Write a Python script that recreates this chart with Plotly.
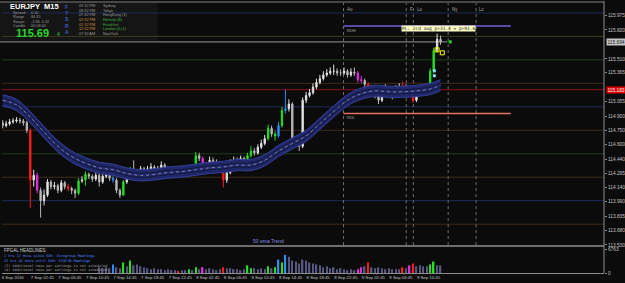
import plotly.graph_objects as go

# ------------------------------------------------------------------ data
# EURJPY, one candle per slot (slot 0 = left edge of the chart)
close = [114.80, 114.82, 114.84, 114.85, 114.86, 114.85, 114.83, 114.75, 114.22, 114.27,
         114.11, 114.00, 114.06, 114.20, 114.15, 114.16, 114.11, 114.19, 114.15, 114.13,
         114.11, 114.08, 114.21, 114.22, 114.28, 114.26, 114.23, 114.27, 114.20, 114.26,
         114.27, 114.24, 114.22, 114.11, 114.06, 114.20, 114.26, 114.32, 114.30, 114.26,
         114.34, 114.30, 114.34, 114.36, 114.32, 114.34, 114.38, 114.33, 114.31, 114.31,
         114.30, 114.29, 114.30, 114.31, 114.34, 114.35, 114.48, 114.45, 114.34, 114.36,
         114.43, 114.41, 114.40, 114.36, 114.22, 114.30, 114.40, 114.43, 114.41, 114.45,
         114.39, 114.48, 114.53, 114.51, 114.57, 114.61, 114.66, 114.77, 114.71, 114.69,
         114.80, 114.96, 114.98, 115.03, 114.64, 114.62, 114.58, 115.07, 115.12, 115.15,
         115.21, 115.26, 115.30, 115.34, 115.36, 115.38, 115.38, 115.36, 115.36, 115.38,
         115.34, 115.37, 115.36, 115.29, 115.28, 115.24, 115.21, 115.16, 115.12, 115.07,
         115.14, 115.17, 115.13, 115.12, 115.19, 115.21, 115.22, 115.19, 115.18, 115.07,
         115.15, 115.17, 115.15, 115.19, 115.38, 115.60, 115.72, 115.69]
high = [114.86, 114.85, 114.87, 114.88, 114.89, 114.88, 114.87, 114.85, 114.77, 114.33,
        114.30, 114.14, 114.12, 114.23, 114.22, 114.20, 114.18, 114.22, 114.21, 114.18,
        114.15, 114.13, 114.24, 114.26, 114.31, 114.30, 114.28, 114.30, 114.29, 114.29,
        114.31, 114.29, 114.26, 114.24, 114.13, 114.22, 114.29, 114.36, 114.43, 114.32,
        114.37, 114.36, 114.37, 114.40, 114.38, 114.37, 114.42, 114.40, 114.35, 114.34,
        114.33, 114.32, 114.33, 114.34, 114.37, 114.38, 114.52, 114.51, 114.47, 114.40,
        114.47, 114.46, 114.44, 114.42, 114.38, 114.33, 114.44, 114.47, 114.46, 114.48,
        114.47, 114.51, 114.58, 114.56, 114.60, 114.65, 114.70, 114.81, 114.80, 114.74,
        114.84, 115.00, 115.18, 115.08, 115.05, 114.68, 114.65, 115.10, 115.16, 115.19,
        115.25, 115.30, 115.34, 115.38, 115.40, 115.42, 115.45, 115.41, 115.40, 115.42,
        115.40, 115.41, 115.42, 115.38, 115.33, 115.30, 115.26, 115.23, 115.18, 115.15,
        115.18, 115.24, 115.19, 115.16, 115.23, 115.25, 115.27, 115.24, 115.21, 115.20,
        115.18, 115.21, 115.19, 115.22, 115.41, 115.63, 115.78, 115.76]
low = [114.77, 114.78, 114.80, 114.82, 114.83, 114.82, 114.80, 114.72, 113.92, 114.15,
       114.08, 113.82, 113.95, 114.04, 114.12, 114.12, 114.08, 114.09, 114.12, 114.10,
       114.07, 114.03, 114.06, 114.19, 114.16, 114.23, 114.20, 114.21, 114.15, 114.18,
       114.24, 114.21, 114.19, 114.08, 114.03, 114.05, 114.18, 114.24, 114.27, 114.23,
       114.24, 114.28, 114.29, 114.32, 114.30, 114.29, 114.32, 114.31, 114.29, 114.28,
       114.27, 114.26, 114.27, 114.28, 114.29, 114.32, 114.33, 114.42, 114.31, 114.32,
       114.35, 114.38, 114.37, 114.33, 114.14, 114.19, 114.28, 114.38, 114.38, 114.39,
       114.36, 114.37, 114.46, 114.48, 114.49, 114.55, 114.59, 114.64, 114.68, 114.64,
       114.67, 114.78, 114.93, 114.95, 114.56, 114.57, 114.53, 114.56, 115.04, 115.10,
       115.13, 115.19, 115.24, 115.28, 115.32, 115.34, 115.34, 115.33, 115.33, 115.34,
       115.31, 115.32, 115.33, 115.26, 115.25, 115.21, 115.18, 115.13, 115.09, 115.03,
       115.05, 115.12, 115.10, 115.08, 115.10, 115.17, 115.19, 115.16, 115.15, 115.04,
       115.05, 115.13, 115.12, 115.13, 115.17, 115.36, 115.58, 115.66]
first_open = 114.83
open_ = [first_open] + close[:-1]

# indicator-coloured bars (same colouring for candles and volume)
hl_index = [8, 10, 19, 22, 24, 32, 35, 37, 51, 54, 56, 58, 64, 71, 72, 77, 79, 80, 81, 82,
            103, 104, 106, 116, 118, 119, 124, 125]
hl_kind = ['red', 'magenta', 'red', 'green', 'green', 'blue', 'green', 'green', 'red', 'green',
           'green', 'magenta', 'red', 'green', 'green', 'green', 'green', 'blue', 'green', 'blue',
           'magenta', 'magenta', 'red', 'red', 'magenta', 'red', 'green', 'green']

# 50 ema trend band centre, sampled every 4th slot (+ last)
ema_slot = [0, 4, 8, 12, 16, 20, 24, 28, 32, 36, 40, 44, 48, 52, 56, 60, 64, 68, 72, 76,
            80, 84, 88, 92, 96, 100, 104, 108, 112, 116, 120, 124, 127]
ema_val = [115.07, 115.02, 114.89, 114.73, 114.58, 114.47, 114.40, 114.35, 114.33, 114.29,
           114.27, 114.28, 114.30, 114.31, 114.33, 114.35, 114.36, 114.38, 114.38, 114.43,
           114.53, 114.61, 114.69, 114.82, 114.95, 115.07, 115.14, 115.17, 115.16, 115.16,
           115.17, 115.19, 115.23]

# tick volume, slots 28..127
vol_start = 28
volume = [1620, 1350, 1620, 1350, 2430, 1620, 1350, 2970, 1890, 3510, 2160, 2430, 1890, 1620, 1350,
          1080, 1350, 1080, 1080, 810, 1080, 810, 810, 540, 810, 810, 1080, 810, 1620, 1080,
          1620, 1080, 1350, 1080, 810, 1080, 1620, 1350, 1350, 1080, 1080, 810, 1080, 2160, 1350,
          1350, 1080, 1350, 1080, 1890, 1350, 1620, 3780, 2970, 5130, 4590, 3510, 3240, 2700, 3780,
          3510, 2970, 2700, 2430, 2160, 1620, 1890, 1350, 1620, 1080, 1350, 1080, 810, 1080, 810,
          1080, 1620, 1890, 2970, 1620, 1350, 1620, 1350, 1080, 1350, 1080, 1080, 1080, 1620, 1350,
          2160, 2700, 1890, 2160, 1890, 1890, 2430, 3240, 2160, 2160]

# round-number levels
levels = [116.00, 115.75, 115.50, 115.25, 115.00, 114.75, 114.50, 114.25, 114.00, 113.75]
level_kind = ['blue', 'olive', 'green', 'brown', 'blue', 'brown', 'green', 'brown', 'blue', 'brown']
red_level = 115.183
bid = 115.692

# session markers (slot positions) and range high/low
sessions = ['Ao', 'F', 'Lo', 'Ny', 'Lc']
session_slot = [98.85, 117.05, 119.1, 129.2, 137.3]
rdh, rdl = 115.86, 114.93
range_slots = [98.85, 147.4]

# indicator markers
yellow_slot, yellow_val = [126.0, 127.5], [115.607, 115.575]
cyan_slot, cyan_val = [125.2, 125.2], [115.384, 115.331]
green_slot, green_val = [129.8], [115.692]

# axis ticks (115.665 and 115.210 sit under the bid / red price tags)
price_ticks = [115.975, 115.820, 115.510, 115.365, 115.055, 114.900, 114.750,
               114.600, 114.440, 114.295, 114.140, 113.990, 113.835, 113.680, 113.530]
time_tick_slot = [2.9, 11.5, 19.5, 27.5, 35.5, 43.5, 51.5, 59.5, 67.5, 75.5, 83.5, 91.5, 99.5,
                  107.5, 115.5, 123.5]
time_tick_text = ['6 Sep 2016', '7 Sep 02:45', '7 Sep 06:45', '7 Sep 10:45', '7 Sep 14:45',
                  '7 Sep 18:45', '7 Sep 22:45', '8 Sep 02:45', '8 Sep 06:45', '8 Sep 10:45',
                  '8 Sep 14:45', '8 Sep 18:45', '8 Sep 22:45', '9 Sep 02:45', '9 Sep 06:45',
                  '9 Sep 10:45']

# ------------------------------------------------------------------ styling
W, H = 625, 283
ML, MR, MT, MB = 2, 19, 0, 10
PW, PH = W - ML - MR, H - MT - MB
BG = '#0b0b0b'
HL = {'red': '#ff1c1c', 'green': '#22e022', 'magenta': '#e030e0', 'blue': '#2a8cff'}
LV = {'blue': '#1d2c58', 'olive': '#3e3a1c', 'green': '#1c3f1c', 'brown': '#3f2b18'}
FONT = 'Liberation Sans'
BAND = 0.060


def px(x):
    return (x - ML) / PW


def py(y):
    return 1 - (y - MT) / PH


n = len(close)
slots = list(range(n))
hl_map = dict(zip(hl_index, hl_kind))

fig = go.Figure()

# ema band
ema_up = [v + BAND for v in ema_val]
ema_lo = [v - BAND for v in ema_val]
fig.add_trace(go.Scatter(x=ema_slot, y=ema_lo, mode='lines', line=dict(color='#34409a', width=1, shape='spline'),
                         hoverinfo='skip'))
fig.add_trace(go.Scatter(x=ema_slot, y=ema_up, mode='lines', line=dict(color='#34409a', width=1, shape='spline'),
                         fill='tonexty', fillcolor='#20286a', hoverinfo='skip'))
for off in (-0.022, 0.022):
    fig.add_trace(go.Scatter(x=ema_slot, y=[v + off for v in ema_val], mode='lines',
                             line=dict(color='#13173a', width=1, shape='spline'), hoverinfo='skip'))
fig.add_trace(go.Scatter(x=ema_slot, y=ema_val, mode='lines',
                         line=dict(color='#a8a8b8', width=0.7, dash='dot', shape='spline'), hoverinfo='skip'))

# candles
groups = {'default': [i for i in slots if i not in hl_map]}
for k in HL:
    groups[k] = [i for i in slots if hl_map.get(i) == k]
for g, idx in groups.items():
    if not idx:
        continue
    if g == 'default':
        inc, dec = '#e2e2e2', '#b8b8b8'
    else:
        inc = dec = HL[g]
    fig.add_trace(go.Candlestick(
        x=idx, open=[open_[i] for i in idx], high=[high[i] for i in idx],
        low=[low[i] for i in idx], close=[close[i] for i in idx],
        increasing=dict(line=dict(color=inc, width=1), fillcolor=inc),
        decreasing=dict(line=dict(color=dec, width=1), fillcolor=dec),
        whiskerwidth=0, hoverinfo='skip'))

# markers
fig.add_trace(go.Scatter(x=cyan_slot, y=cyan_val, mode='markers',
                         marker=dict(color='#7fe0f0', size=3, symbol='square'), hoverinfo='skip'))
fig.add_trace(go.Scatter(x=yellow_slot, y=yellow_val, mode='markers',
                         marker=dict(color='rgba(0,0,0,0)', size=4, symbol='square',
                                     line=dict(color='#ffff00', width=1)), hoverinfo='skip'))
fig.add_trace(go.Scatter(x=green_slot, y=green_val, mode='markers',
                         marker=dict(color='#22e022', size=3, symbol='square'), hoverinfo='skip'))

# volume
vx = list(range(vol_start, vol_start + len(volume)))
vcol = [HL[hl_map[i]] if i in hl_map else '#56567e' for i in vx]
fig.add_trace(go.Bar(x=vx, y=volume, marker=dict(color=vcol, line=dict(width=0)), width=0.42,
                     yaxis='y2', hoverinfo='skip'))

shapes = []
# info box
shapes.append(dict(type='rect', xref='paper', yref='paper', x0=px(0), x1=px(158), y0=py(40), y1=py(2),
                   fillcolor='#151515', line=dict(width=0), layer='below'))
for lv, kind in zip(levels, level_kind):
    shapes.append(dict(type='line', xref='paper', yref='y', x0=0, x1=1, y0=lv, y1=lv,
                       line=dict(color=LV[kind], width=1), layer='below'))
shapes.append(dict(type='line', xref='paper', yref='y', x0=0, x1=1, y0=red_level, y1=red_level,
                   line=dict(color='#8e1212', width=1), layer='below'))
shapes.append(dict(type='line', xref='paper', yref='y', x0=px(0), x1=px(449), y0=bid, y1=bid,
                   line=dict(color='#7a7a7a', width=1.2), layer='below'))
for s in session_slot:
    shapes.append(dict(type='line', xref='x', yref='paper', x0=s, x1=s, y0=py(245), y1=py(2),
                       line=dict(color='#6e6e6e', width=1, dash='dot'), layer='below'))
shapes.append(dict(type='line', xref='x', yref='y', x0=range_slots[0], x1=range_slots[1], y0=rdh, y1=rdh,
                   line=dict(color='#6f5fd8', width=1.5)))
shapes.append(dict(type='line', xref='x', yref='y', x0=range_slots[0], x1=range_slots[1], y0=rdl, y1=rdl,
                   line=dict(color='#e8705e', width=1.5)))
# frame lines
shapes.append(dict(type='line', xref='paper', yref='paper', x0=px(0), x1=1, y0=py(1), y1=py(1),
                   line=dict(color='#5c5c5c', width=1.5)))
shapes.append(dict(type='rect', xref='paper', yref='paper', x0=px(0), x1=1, y0=py(247), y1=py(245),
                   fillcolor='#6e6e6e', line=dict(width=0)))
shapes.append(dict(type='line', xref='paper', yref='paper', x0=1, x1=1, y0=0, y1=1,
                   line=dict(color='#8c8c8c', width=1)))
# small time-axis tick marks
for t in time_tick_slot[1:]:
    shapes.append(dict(type='line', xref='x', yref='paper', x0=t - 7, x1=t - 7, y0=0, y1=py(274.5),
                       line=dict(color='#8c8c8c', width=1)))

ann = []


def text(x, y, t, color='#a8a8a8', size=5, anchor='left', family=FONT, bg=None, yanchor='middle'):
    d = dict(xref='paper', yref='paper', x=px(x), y=py(y), text=t, showarrow=False,
             xanchor=anchor, yanchor=yanchor, font=dict(color=color, size=size, family=family),
             borderpad=0)
    if bg:
        d['bgcolor'] = bg
    ann.append(d)


# info panel
text(9, 6, '<b>EURJPY  M15</b>', '#ffffff', 7.5)
for i, (a, b) in enumerate([('Spread', '0.50'), ('Range', '84.35'), ('Swaps', '-1.96  0.32'),
                            ('Candle', '00:08:40')]):
    text(12, 12 + 4.4 * i, a, '#9a9a9a', 3.8)
    text(30, 12 + 4.4 * i, b, '#9a9a9a', 3.8)
text(15, 32, '<b>115.69</b>', '#2ed42e', 11)
text(56, 33, '4', '#2ed42e', 5)
for i, ch in enumerate(['F', 'Y', 'S', 'R', 'A']):
    text(67, 6 + 6.2 * i, '<b>' + ch + '</b>', '#3d5cc8', 5, 'center')
times = ['09:32 PM', '08:32 PM', '07:32 PM', '02:32 PM', '01:32 PM', '12:32 PM', '07:32 AM']
tcol = ['#9a9a9a', '#9a9a9a', '#9a9a9a', '#d08c3c', '#d08c3c', '#d08c3c', '#9a9a9a']
cities = ['Sydney', 'Tokyo', 'HongKong (1)', 'Helsinki (8)', 'Frankfurt', 'London (0+1)', 'NewYork']
ccol = ['#9a9a9a', '#9a9a9a', '#9a9a9a', '#3cb43c', '#3cb43c', '#3cb43c', '#9a9a9a']
for i in range(7):
    text(78, 5 + 4.7 * i, times[i], tcol[i], 3.8)
    text(102, 5 + 4.7 * i, cities[i], ccol[i], 3.8)

# session labels
for s, lab in zip(session_slot, sessions):
    ann.append(dict(xref='x', yref='paper', x=s + 0.4, y=py(4), text=lab, showarrow=False, xanchor='left',
                    font=dict(color='#a8a8a8', size=4.5, family=FONT)))
ann.append(dict(xref='x', yref='y', x=range_slots[0] + 0.4, y=rdh, text='RDH', showarrow=False,
                xanchor='left', yanchor='top', font=dict(color='#a8a8a8', size=4, family=FONT)))
ann.append(dict(xref='x', yref='y', x=range_slots[0] + 0.4, y=rdl, text='RDL', showarrow=False,
                xanchor='left', yanchor='top', font=dict(color='#a8a8a8', size=4, family=FONT)))
text(402, 28, 'PL: 2cd avg p+31.4 = p+92.6', '#202020', 4.5, 'left', 'DejaVu Sans Mono', '#fbfbc2')
text(269, 241, '50 ema Trend', '#8c8ce6', 5, 'center')

# price tags on axis
ann.append(dict(xref='paper', yref='y', x=1.003, y=red_level, text='115.183', showarrow=False, xanchor='left',
                font=dict(color='#ffffff', size=4.8, family=FONT), bgcolor='#e00000', borderpad=0.5))
ann.append(dict(xref='paper', yref='y', x=1.003, y=bid, text='115.694', showarrow=False, xanchor='left',
                font=dict(color='#222222', size=4.8, family=FONT), bgcolor='#c4c4c4', borderpad=0.5))

# headlines
text(3, 250, 'FPGAL HEADLINES:', '#d0d0d0', 4.5)
text(3, 256, '1 hrs 17 mins since EUR: Eurogroup Meetings', '#4f86ff', 3.5, 'left', 'DejaVu Sans Mono')
text(3, 261, '22 hrs 41 mins until EUR: ECOFIN Meetings', '#4f86ff', 3.5, 'left', 'DejaVu Sans Mono')
text(3, 265.5, '(3) Additional news per settings is not scheduled', '#9a9a9a', 3.5, 'left', 'DejaVu Sans Mono')
text(3, 270, '(4) Additional news per settings is not scheduled', '#9a9a9a', 3.5, 'left', 'DejaVu Sans Mono')

fig.update_layout(
    width=W, height=H, margin=dict(l=ML, r=MR, t=MT, b=MB),
    paper_bgcolor=BG, plot_bgcolor=BG, showlegend=False, hovermode=False,
    boxmode='overlay', boxgap=0.45,
    shapes=shapes, annotations=ann,
    xaxis=dict(range=[-0.2, 174.4], anchor='y2', showgrid=False, zeroline=False,
               tickvals=time_tick_slot, ticktext=time_tick_text, ticks='', tickangle=0,
               tickfont=dict(color='#c4c4c4', size=4.3, family=FONT),
               showline=True, linecolor='#8c8c8c', linewidth=1,
               rangeslider=dict(visible=False)),
    yaxis=dict(domain=[py(245), py(2)], range=[113.527, 116.106], side='right', showgrid=False,
               zeroline=False, tickvals=price_ticks, ticktext=['%.3f' % v for v in price_ticks],
               ticks='outside', ticklen=2, tickcolor='#8c8c8c',
               tickfont=dict(color='#c4c4c4', size=4.8, family=FONT)),
    yaxis2=dict(domain=[0, py(248)], range=[0, 7045], side='right', showgrid=False, zeroline=False,
                tickvals=[0, 6763], ticktext=['0', '6763'], ticks='outside', ticklen=2,
                tickcolor='#8c8c8c', tickfont=dict(color='#c4c4c4', size=4.8, family=FONT)),
)

fig.write_html('out.html')
